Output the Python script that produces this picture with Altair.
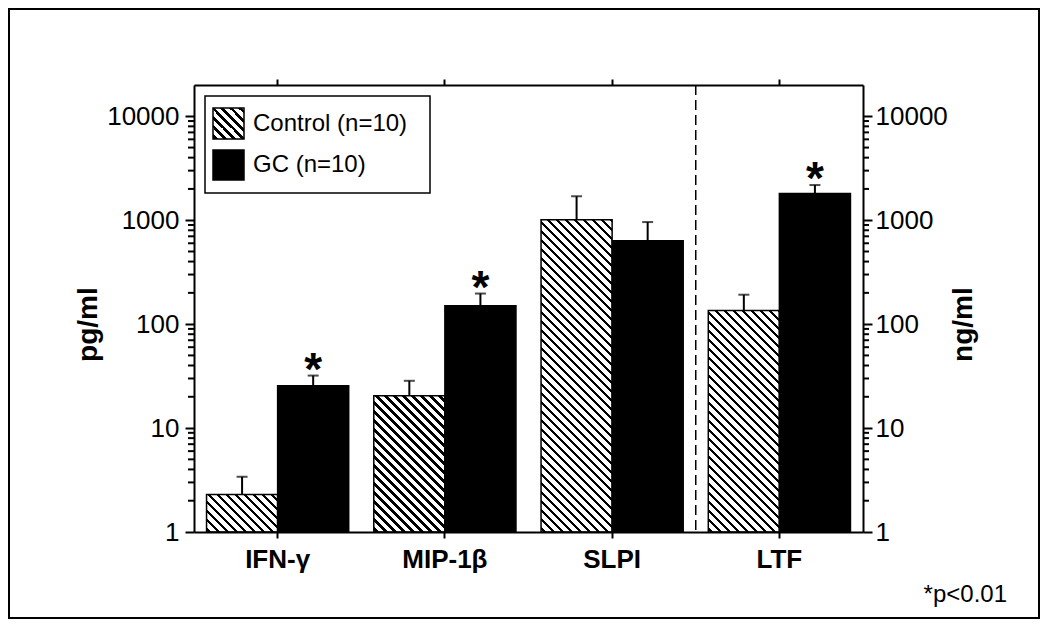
import math
import altair as alt
import pandas as pd

# ---------------- data ----------------
categories = ["IFN-γ", "MIP-1β", "SLPI", "LTF"]
series_names = ["Control (n=10)", "GC (n=10)"]
control_mean = [2.3, 20.5, 1010, 135]
control_upper = [3.4, 28.5, 1700, 192]
gc_mean = [25.5, 150, 635, 1810]
gc_upper = [32, 197, 960, 2180]
gc_star = ["*", "*", "", "*"]
y_major = [1, 10, 100, 1000, 10000]
y_minor_steps = [2, 3, 4, 5, 6, 7, 8, 9]
y_left_title = "pg/ml"
y_right_title = "ng/ml"
footnote = "*p<0.01"

# ---------------- layout ----------------
W, H = 669, 447
Y_MAX = 20000
FONT = "Liberation Sans"

rows = []
for i, c in enumerate(categories):
    rows.append(dict(category=c, series=series_names[0], mean=control_mean[i],
                     upper=control_upper[i], base=1, star=""))
    rows.append(dict(category=c, series=series_names[1], mean=gc_mean[i],
                     upper=gc_upper[i], base=1, star=gc_star[i]))
df = pd.DataFrame(rows)

minor_df = pd.DataFrame({"v": [m * d for d in y_major[:-1] for m in y_minor_steps]})

# vertical centre of the labelled 1..10000 span (axis titles sit there)
y_top_major = H * (1 - math.log10(max(y_major)) / math.log10(Y_MAX))
title_y = (y_top_major + H) / 2


def hatch_fill(w, h, period=9.0, frac=0.38):
    """Diagonal (\\) hatch made of a hard-stop linear gradient, 45 degrees in pixels."""
    k = (w + h) / (w * w + h * h)
    L = w + h
    stops = [{"offset": 0, "color": "white"}]
    s = 2.0
    while s < L:
        a = s / L
        b = min((s + frac * period) / L, 1.0)
        stops += [{"offset": a, "color": "white"}, {"offset": a, "color": "black"},
                  {"offset": b, "color": "black"}, {"offset": b, "color": "white"}]
        s += period
    stops.append({"offset": 1, "color": "white"})
    return {"gradient": "linear", "x1": 0, "y1": 1, "x2": k * w, "y2": 1 - k * h,
            "stops": stops}


axis_common = dict(domainColor="black", domainWidth=2, tickColor="black", tickWidth=2,
                   labelColor="black", labelFont=FONT, titleFont=FONT, titleColor="black",
                   grid=False, zindex=1)

x_bottom = alt.Axis(orient="bottom", title=None, labelAngle=0, labelFontSize=26,
                    labelFontWeight="bold", tickSize=6, labelPadding=8, **axis_common)
x_top = alt.Axis(orient="top", title=None, labels=False, tickSize=6, **axis_common)
y_left = alt.Axis(orient="left", values=y_major, format="d", labelOverlap=False,
                  labelFontSize=26, labelPadding=6, tickSize=9,
                  title=y_left_title, titleFontSize=28, titleFontWeight="bold",
                  titlePadding=4, titleY=title_y, **axis_common)
y_right = alt.Axis(orient="right", values=y_major, format="d", labelOverlap=False,
                   labelFontSize=26, labelPadding=3, tickSize=9,
                   title=y_right_title, titleFontSize=28, titleFontWeight="bold",
                   titleAngle=270, titlePadding=30, titleY=title_y, **axis_common)

xscale = alt.Scale(domain=categories, paddingInner=0.15, paddingOuter=0.075)
xoscale = alt.Scale(domain=series_names, paddingInner=0, paddingOuter=0)
yscale = alt.Scale(type="log", domain=[1, Y_MAX])


def X(axis=None):
    return alt.X("category:N", scale=xscale, axis=axis)


XO = alt.XOffset("series:N", scale=xoscale)

base = alt.Chart()
bar_w = W / len(categories) * 0.85 / 2

one = pd.DataFrame({"k": [0]})

# outer frame
frame = alt.Chart(one).mark_rect(fillOpacity=0, stroke="black", strokeWidth=2).encode(
    x=alt.value(-185), x2=alt.value(W + 176), y=alt.value(-76), y2=alt.value(H + 86))

layers = [frame]

# hatched control bars
for i, c in enumerate(categories):
    h = H * math.log10(control_mean[i]) / math.log10(Y_MAX)
    lay = base.transform_filter(
        (alt.datum.category == c) & (alt.datum.series == series_names[0])
    ).mark_bar(fill=hatch_fill(bar_w, h), stroke="black", strokeWidth=1.5).encode(
        x=X(x_bottom if i == 0 else None),
        xOffset=XO,
        y=alt.Y("mean:Q", scale=yscale, axis=y_left if i == 0 else None),
        y2="base:Q",
    )
    layers.append(lay)

# solid GC bars
gc_bars = base.transform_filter(alt.datum.series == series_names[1]).mark_bar(
    fill="black", stroke="black", strokeWidth=1.5).encode(
    x=X(x_top), xOffset=XO,
    y=alt.Y("mean:Q", scale=yscale, axis=y_right), y2="base:Q")
layers.append(gc_bars)

# minor log ticks on both y axes
for x0, x1 in [(-6, 0), (W, W + 6)]:
    layers.append(alt.Chart(minor_df).mark_rule(color="black", strokeWidth=2).encode(
        x=alt.value(x0), x2=alt.value(x1),
        y=alt.Y("v:Q", scale=yscale, axis=None)))

# error bars (upper only)
err = base.mark_rule(color="black", strokeWidth=2).encode(
    x=X(), xOffset=XO, y=alt.Y("mean:Q", scale=yscale, axis=None), y2="upper:Q")
caps = base.mark_tick(color="black", thickness=2, size=11).encode(
    x=X(), xOffset=XO, y=alt.Y("upper:Q", scale=yscale, axis=None))
stars = base.transform_filter(alt.datum.star != "").mark_text(
    font=FONT, fontSize=46, fontWeight="bold", baseline="alphabetic", dy=9,
    color="black").encode(
    x=X(), xOffset=XO, y=alt.Y("upper:Q", scale=yscale, axis=None), text="star:N")
layers += [err, caps, stars]

# dashed separator between SLPI and LTF
sep = alt.Chart(one).mark_rule(color="black", strokeWidth=1.5, strokeDash=[10, 5]).encode(
    x=alt.value(W * 3 / len(categories)), y=alt.value(0), y2=alt.value(H))
layers.append(sep)

# legend
leg_box = alt.Chart(one).mark_rect(fill="white", stroke="black", strokeWidth=1.5).encode(
    x=alt.value(11), x2=alt.value(236), y=alt.value(11), y2=alt.value(108))
leg_ctrl = alt.Chart(one).mark_rect(fill=hatch_fill(31, 31), stroke="black",
                                    strokeWidth=1.5).encode(
    x=alt.value(19), x2=alt.value(50), y=alt.value(23), y2=alt.value(54))
leg_gc = alt.Chart(one).mark_rect(fill="black", stroke="black", strokeWidth=1.5).encode(
    x=alt.value(19), x2=alt.value(50), y=alt.value(65), y2=alt.value(95))
leg_df = pd.DataFrame({"name": series_names})
leg_t1 = alt.Chart(leg_df).transform_filter(alt.datum.name == series_names[0]).mark_text(
    font=FONT, fontSize=24, align="left", baseline="middle", color="black").encode(
    x=alt.value(59), y=alt.value(39), text="name:N")
leg_t2 = alt.Chart(leg_df).transform_filter(alt.datum.name == series_names[1]).mark_text(
    font=FONT, fontSize=24, align="left", baseline="middle", color="black").encode(
    x=alt.value(59), y=alt.value(80), text="name:N")
layers += [leg_box, leg_ctrl, leg_gc, leg_t1, leg_t2]

# footnote
foot = alt.Chart(pd.DataFrame({"t": [footnote]})).mark_text(
    font=FONT, fontSize=24, align="right", baseline="alphabetic", color="black").encode(
    x=alt.value(W + 144), y=alt.value(H + 70), text="t:N")
layers.append(foot)

chart = alt.layer(*layers, data=df).resolve_axis(
    x="independent", y="independent"
).properties(width=W, height=H, padding=0, background="white").configure_view(
    stroke=None).configure(font=FONT)

chart.save("out.html", embed_options={"renderer": "svg", "actions": False})
